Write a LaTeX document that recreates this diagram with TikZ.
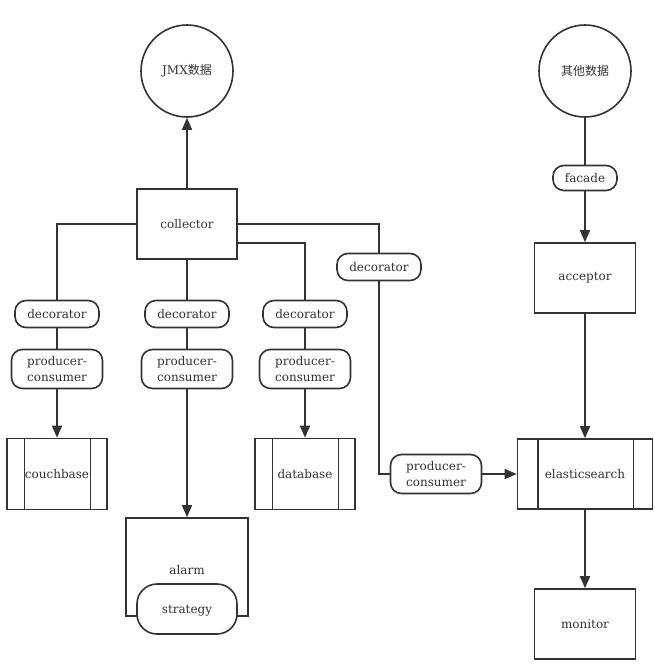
\documentclass[tikz,border=0pt]{standalone}
\usepackage{fontspec}
\setmainfont{DejaVu Serif}
\newfontfamily\cjkfont{Noto Sans CJK SC}
\usetikzlibrary{arrows.meta}
\definecolor{linegray}{HTML}{333333}
\definecolor{txtgray}{HTML}{333333}

\tikzset{
    proc/.style={draw=linegray, line width=1.6pt, fill=white, minimum width=100pt, minimum height=70pt, inner sep=0pt},
    pill/.style={draw=linegray, line width=1.6pt, fill=white, rounded corners=11pt, inner sep=0pt, align=center},
    store/.style={proc, minimum width=#1,
        path picture={
            \draw[linegray, line width=0.9pt] ([xshift=17pt]path picture bounding box.north west) -- ([xshift=17pt]path picture bounding box.south west);
            \draw[linegray, line width=0.9pt] ([xshift=-17pt]path picture bounding box.north east) -- ([xshift=-17pt]path picture bounding box.south east);
        }},
    datacirc/.style={draw=linegray, line width=1.6pt, circle, minimum size=92pt, inner sep=0pt},
    link/.style={draw=linegray, line width=1.6pt},
    flow/.style={link, -{Triangle[length=12pt, width=10pt]}}
}

\begin{document}
\begin{tikzpicture}[x=1pt, y=-1pt, every node/.append style={font=\fontsize{12}{15.5}\selectfont, text=txtgray}]
    \useasboundingbox (0,0) rectangle (655,665);

    % sources
    \node[datacirc] (jmx) at (187,71) {JMX{\cjkfont 数据}};
    \node[datacirc] (other) at (585,71) {\cjkfont 其他数据};

    % collector branch
    \node[proc] (col) at (187,224) {collector};

    \node[pill, minimum width=84pt, minimum height=27pt] (dec1) at (57,314) {decorator};
    \node[pill, minimum width=84pt, minimum height=27pt] (dec2) at (187,314) {decorator};
    \node[pill, minimum width=84pt, minimum height=27pt] (dec3) at (305,314) {decorator};
    \node[pill, minimum width=84pt, minimum height=27pt] (dec4) at (379,267) {decorator};

    \node[pill, minimum width=91pt, minimum height=39pt] (pc1) at (57,369) {producer-\\consumer};
    \node[pill, minimum width=91pt, minimum height=39pt] (pc2) at (187,369) {producer-\\consumer};
    \node[pill, minimum width=91pt, minimum height=39pt] (pc3) at (305,369) {producer-\\consumer};
    \node[pill, minimum width=91pt, minimum height=39pt] (pc4) at (436,474) {producer-\\consumer};

    \node[store=100pt, minimum height=71pt] (cb) at (57,474) {couchbase};
    \node[store=100pt, minimum height=71pt] (db) at (305,474) {database};
    \node[store=135pt, minimum height=70pt, path picture={}] (es) at (585,474) {elasticsearch};
    \draw[linegray, line width=1.6pt] ([xshift=21pt]es.north west) -- ([xshift=21pt]es.south west);
    \draw[linegray, line width=1.6pt] ([xshift=-20pt]es.north east) -- ([xshift=-20pt]es.south east);

    % alarm with strategy
    \node[proc, minimum width=122pt, minimum height=98pt] (alarm) at (187,567) {};
    \node at (187,570) {alarm};
    \node[pill, rounded corners=20pt, minimum width=100pt, minimum height=50pt, text depth=0pt] (strat) at (187,609) {strategy};

    % right branch
    \node[pill, minimum width=64pt, minimum height=25pt] (fac) at (585,178) {facade};
    \node[proc, minimum width=101pt] (acc) at (585,278) {acceptor};
    \node[proc, minimum width=101pt] (mon) at (585,624) {monitor};

    % connectors
    \draw[flow] (col.north) -- (jmx.south);
    \draw[link] (col.west) -| (dec1.north);
    \draw[link] (col.south) -- (dec2.north);
    \draw[link] ([yshift=-19pt]col.east) -| (dec3.north);
    \draw[link] (col.east) -| (dec4.north);

    \draw[link] (dec1) -- (pc1);
    \draw[link] (dec2) -- (pc2);
    \draw[link] (dec3) -- (pc3);
    \draw[flow] (pc1) -- (cb);
    \draw[flow] (pc2) -- (alarm.north);
    \draw[flow] (pc3) -- (db);
    \draw[link] (dec4.south) |- (pc4.west);
    \draw[flow] (pc4) -- (es);

    \draw[link] (other) -- (fac);
    \draw[flow] (fac) -- (acc);
    \draw[flow] (acc) -- (es);
    \draw[flow] (es) -- (mon);
\end{tikzpicture}
\end{document}
